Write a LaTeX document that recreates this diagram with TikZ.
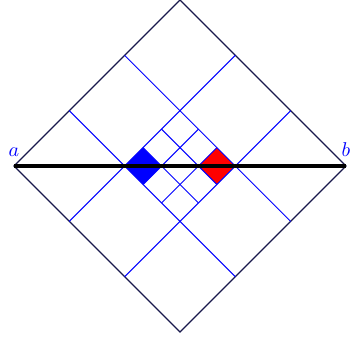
\documentclass[tikz,border=0pt]{standalone}
\usepackage{amsmath}
\usepackage{tikz}

\definecolor{edgenavy}{rgb}{0.1,0.1,0.3}

\begin{document}
\begin{tikzpicture}[scale=2.92, every node/.style={text=blue}]
    \useasboundingbox (-1.084,-1.060) rectangle (1.024,1.0);

    % ---------- corners of the diamond ----------
    \coordinate (a) at (-1,0);
    \coordinate (b) at (1,0);
    \coordinate (top) at (0,1);
    \coordinate (bot) at (0,-1);

    % outer diamond
    \draw[edgenavy, line width=0.6pt] (a) -- (top) -- (b) -- (bot) -- cycle;

    % ---------- light-cone grid ----------
    \begin{scope}[shift={(-1,0)}, x={(1cm,-1cm)}, y={(1cm,1cm)}]
      % filled cells
      \fill[blue] (1/3,1/3) -- (4/9,1/3) -- (4/9,4/9) -- (1/3,4/9) -- cycle;
      \fill[red] (5/9,5/9) -- (2/3,5/9) -- (2/3,2/3) -- (5/9,2/3) -- cycle;

      % thirds of the whole diamond
      \foreach \s in {1/3,2/3} {
        \draw[blue, line width=0.5pt] (\s,0) -- (\s,1);
        \draw[blue, line width=0.5pt] (0,\s) -- (1,\s);
      }

      % ninths inside the middle cell
      \foreach \s in {4/9,5/9} {
        \draw[blue, line width=0.5pt] (\s,1/3) -- (\s,2/3);
        \draw[blue, line width=0.5pt] (1/3,\s) -- (2/3,\s);
      }
    \end{scope}

    % horizontal segment from a to b
    \draw[black, line width=1.6pt] (a) -- (b);

    % end labels
    \node[above=1.2pt] (la) at (a) {$a$};
    \node[above=1.2pt] (lb) at (b) {$b$};
\end{tikzpicture}
\end{document}
